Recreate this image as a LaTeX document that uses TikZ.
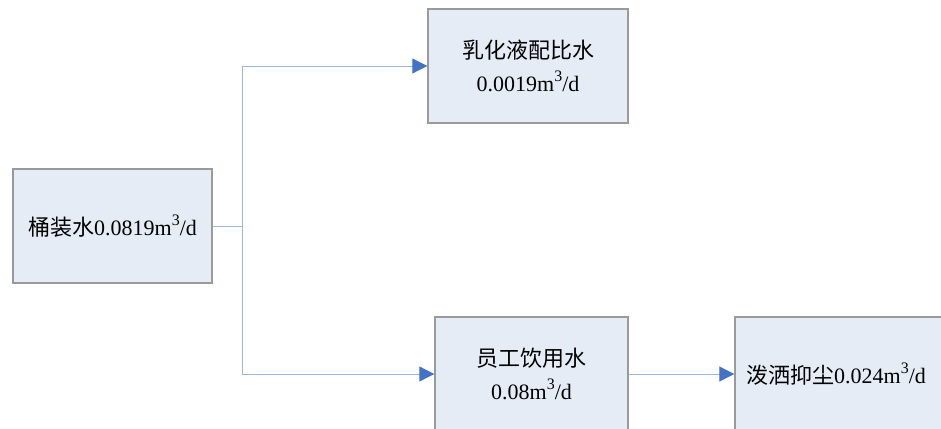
\documentclass[tikz,border=0pt]{standalone}
\usepackage{fontspec}
\setmainfont{Liberation Serif}
\newfontfamily\cjk{Noto Sans CJK SC}
\usetikzlibrary{arrows.meta}
\definecolor{boxfill}{HTML}{E6ECF6}
\definecolor{boxline}{HTML}{9A9A9A}
\definecolor{conn}{HTML}{9DB4DE}
\definecolor{tipc}{HTML}{4472C4}
\newcommand{\cubic}{m\raisebox{0.45em}{\fontsize{16}{16}\selectfont 3}}
\tikzset{
  flowbox/.style={draw=boxline, fill=boxfill, line width=1.4pt, minimum height=114pt, inner sep=0pt, align=center, font=\fontsize{22}{33}\selectfont},
  conline/.style={draw=conn, line width=1pt},
  conarrow/.style={conline, -{Triangle[length=15pt,width=15pt,color=tipc]}}
}
\begin{document}
\begin{tikzpicture}[x=1pt,y=1pt]
\clip (0,0) rectangle (941,-428);
\fill[white] (0,0) rectangle (941,-428);
\node[flowbox, minimum width=199pt] (src) at (112.5,-226) {{\cjk 桶装水}0.0819\cubic/d};
\node[flowbox, minimum width=200pt] (emu) at (528,-66) {{\cjk 乳化液配比水}\\0.0019\cubic/d};
\node[flowbox, minimum width=193pt] (staff) at (531.5,-374) {{\cjk 员工饮用水}\\0.08\cubic/d};
\node[flowbox, minimum width=240pt] (dust) at (855,-374) {};
\node[anchor=west, inner sep=0pt, font=\fontsize{22}{33}\selectfont] (dustt) at (746,-374) {{\cjk 泼洒抑尘}0.024\cubic/d};
\coordinate (jm) at (242,-226);
\coordinate (jt) at (242,-66);
\coordinate (jb) at (242,-374);
\draw[conline] (src.east) -- (jm);
\draw[conline] (jt) -- (jb);
\draw[conarrow] (jt) -- (emu.west);
\draw[conarrow] (jb) -- (staff.west);
\draw[conarrow] (staff.east) -- (dust.west);
\end{tikzpicture}
\end{document}
